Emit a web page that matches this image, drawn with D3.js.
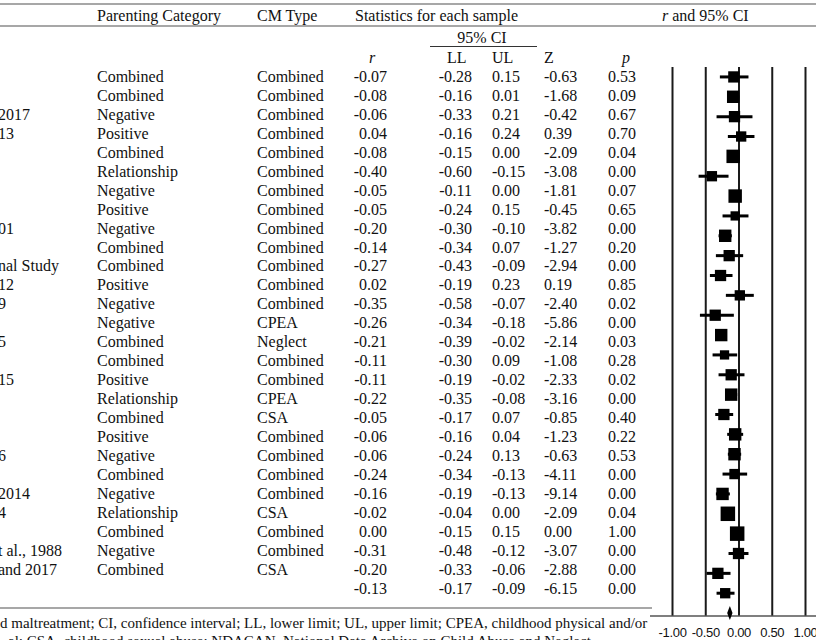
<!DOCTYPE html>
<html>
<head>
<meta charset="utf-8">
<script src="https://cdn.jsdelivr.net/npm/d3@7"></script>
<style>
  body { margin: 0; background: #fff; }
  svg text { font-family: "Liberation Serif", "Times New Roman", serif; font-size: 16px; fill: #111; }
</style>
</head>
<body>
<div id="chart"></div>
<script>
// cut-off study names (left column is cropped in the source)
const studies = ["", "", "2017", "13", "", "", "", "", "01", "", "nal Study", "12", "9", "",
    "5", "", "15", "", "", "", "6", "", "2014", "4", "", "t al., 1988", "and 2017"];
const parenting = ["Combined", "Combined", "Negative", "Positive", "Combined", "Relationship", "Negative",
    "Positive", "Negative", "Combined", "Combined", "Positive", "Negative", "Negative", "Combined",
    "Combined", "Positive", "Relationship", "Combined", "Positive", "Negative", "Combined", "Negative",
    "Relationship", "Combined", "Negative", "Combined"];
const cmType = ["Combined", "Combined", "Combined", "Combined", "Combined", "Combined", "Combined",
    "Combined", "Combined", "Combined", "Combined", "Combined", "Combined", "CPEA", "Neglect",
    "Combined", "Combined", "CPEA", "CSA", "Combined", "Combined", "Combined", "Combined",
    "CSA", "Combined", "Combined", "CSA"];
const rVals = [-0.07, -0.08, -0.06, 0.04, -0.08, -0.40, -0.05, -0.05, -0.20, -0.14, -0.27, 0.02, -0.35,
    -0.26, -0.21, -0.11, -0.11, -0.22, -0.05, -0.06, -0.06, -0.24, -0.16, -0.02, 0.00, -0.31, -0.20];
const llVals = [-0.28, -0.16, -0.33, -0.16, -0.15, -0.60, -0.11, -0.24, -0.30, -0.34, -0.43, -0.19, -0.58,
    -0.34, -0.39, -0.30, -0.19, -0.35, -0.17, -0.16, -0.24, -0.34, -0.19, -0.04, -0.15, -0.48, -0.33];
const ulVals = [0.15, 0.01, 0.21, 0.24, 0.00, -0.15, 0.00, 0.15, -0.10, 0.07, -0.09, 0.23, -0.07,
    -0.18, -0.02, 0.09, -0.02, -0.08, 0.07, 0.04, 0.13, -0.13, -0.13, 0.00, 0.15, -0.12, -0.06];
const zVals = [-0.63, -1.68, -0.42, 0.39, -2.09, -3.08, -1.81, -0.45, -3.82, -1.27, -2.94, 0.19, -2.40,
    -5.86, -2.14, -1.08, -2.33, -3.16, -0.85, -1.23, -0.63, -4.11, -9.14, -2.09, 0.00, -3.07, -2.88];
const pVals = [0.53, 0.09, 0.67, 0.70, 0.04, 0.00, 0.07, 0.65, 0.00, 0.20, 0.00, 0.85, 0.02,
    0.00, 0.03, 0.28, 0.02, 0.00, 0.40, 0.22, 0.53, 0.00, 0.00, 0.04, 1.00, 0.00, 0.00];
// relative study weights (drive the square sizes)
const weights = [4.3, 5.2, 4.3, 3.6, 6.1, 3.6, 6.1, 2.9, 5.2, 4.3, 4.3, 3.6, 4.3, 5.2,
    2.9, 4.3, 5.2, 4.3, 5.2, 5.2, 3.6, 5.2, 7.1, 7.1, 4.3, 4.3, 3.6];
const summary = { r: -0.13, ll: -0.17, ul: -0.09, z: -6.15, p: 0.00 };
const xTicks = [-1, -0.5, 0, 0.5, 1];
const footnotes = [
    "d maltreatment; CI, confidence interval; LL, lower limit; UL, upper limit; CPEA, childhood physical and/or",
    "al; CSA, childhood sexual abuse; NDACAN, National Data Archive on Child Abuse and Neglect."
];

const width = 816, height = 640;
const fmt = v => v.toFixed(2);

const studiesData = rVals.map((r, i) => ({
    id: i, study: studies[i], parenting: parenting[i], cm: cmType[i],
    r: r, ll: llVals[i], ul: ulVals[i], z: zVals[i], p: pVals[i], w: weights[i]
}));
const rowIds = d3.range(studiesData.length + 1); // last one = summary

const svg = d3.select("#chart").append("svg")
    .attr("width", width)
    .attr("height", height);

// rules
const rule = (x1, x2, y) => svg.append("line")
    .attr("x1", x1).attr("x2", x2).attr("y1", y).attr("y2", y)
    .attr("stroke", "#8a8a8a").attr("stroke-width", 1.6);
rule(0, width, 4);
rule(0, width, 26);
rule(0, 652, 608);

// table rows
const yRow = d3.scaleBand().domain(rowIds).range([67, 67 + 18.95 * rowIds.length]);
const base = d => yRow(d) + yRow.bandwidth() / 2 + 5.5;

// headers
svg.append("text").attr("x", 97).attr("y", 21).text("Parenting Category");
svg.append("text").attr("x", 257).attr("y", 21).text("CM Type");
svg.append("text").attr("x", 355).attr("y", 21).text("Statistics for each sample");
const rh = svg.append("text").attr("x", 662).attr("y", 21);
rh.append("tspan").attr("font-style", "italic").text("r");
rh.append("tspan").text(" and 95% CI");

svg.append("text").attr("x", 482).attr("y", 43).attr("text-anchor", "middle").text("95% CI");
svg.append("line").attr("x1", 430).attr("x2", 537).attr("y1", 46.5).attr("y2", 46.5)
    .attr("stroke", "#333").attr("stroke-width", 1);

const cols = [
    { key: "study", x: -2, anchor: "start" },
    { key: "parenting", x: 97, anchor: "start" },
    { key: "cm", x: 257, anchor: "start" },
    { key: "r", x: 387, anchor: "end", num: true },
    { key: "ll", x: 472, anchor: "end", num: true },
    { key: "ul", x: 492, anchor: "start", num: true },
    { key: "z", x: 544, anchor: "start", num: true },
    { key: "p", x: 608, anchor: "start", num: true }
];

svg.append("text").attr("x", 369).attr("y", 63).attr("font-style", "italic").text("r");
svg.append("text").attr("x", 447).attr("y", 63).text("LL");
svg.append("text").attr("x", 492).attr("y", 63).text("UL");
svg.append("text").attr("x", 544).attr("y", 63).text("Z");
svg.append("text").attr("x", 622).attr("y", 63).attr("font-style", "italic").text("p");

const rowG = svg.selectAll(".row")
    .data(studiesData)
    .enter().append("g")
    .attr("class", "row");

cols.forEach(c => {
    rowG.append("text")
        .attr("x", c.x)
        .attr("y", d => base(d.id))
        .attr("text-anchor", c.anchor)
        .text(d => c.num ? fmt(d[c.key]) : d[c.key]);
});

const sumId = studiesData.length;
cols.filter(c => c.num).forEach(c => {
    svg.append("text")
        .attr("x", c.x)
        .attr("y", base(sumId))
        .attr("text-anchor", c.anchor)
        .text(fmt(summary[c.key]));
});

// forest plot
const x = d3.scaleLinear().domain([-1, 1]).range([672, 805]);
const yPlot = d3.scaleBand().domain(rowIds).range([67, 623]);
const yc = d => yPlot(d) + yPlot.bandwidth() / 2;
const axisY = 616;
const side = d3.scaleSqrt().domain([0, 7.1]).range([0, 14.5]);

const axis = svg.append("g")
    .attr("transform", `translate(0,${axisY})`)
    .call(d3.axisBottom(x)
        .tickValues(xTicks)
        .tickSize(-(axisY - 67))
        .tickPadding(12)
        .tickFormat(d => d.toFixed(2)));
axis.select(".domain").remove();
axis.selectAll(".tick line").attr("stroke", "#1a1a1a").attr("stroke-width", 2);
axis.selectAll(".tick text")
    .style("font-family", "'Liberation Sans', Arial, sans-serif")
    .style("font-size", "13px")
    .style("letter-spacing", "-0.3px")
    .attr("fill", "#000");

svg.append("line")
    .attr("x1", 650).attr("x2", width).attr("y1", axisY).attr("y2", axisY)
    .attr("stroke", "#555").attr("stroke-width", 1.4);

const marks = svg.selectAll(".mark")
    .data(studiesData)
    .enter().append("g")
    .attr("class", "mark");

marks.append("line")
    .attr("x1", d => x(d.ll))
    .attr("x2", d => x(d.ul))
    .attr("y1", d => yc(d.id))
    .attr("y2", d => yc(d.id))
    .attr("stroke", "#000")
    .attr("stroke-width", 3);

marks.append("rect")
    .attr("x", d => x(d.r) - side(d.w) / 2)
    .attr("y", d => yc(d.id) - side(d.w) / 2)
    .attr("width", d => side(d.w))
    .attr("height", d => side(d.w))
    .attr("fill", "#000");

// summary diamond
const sy = yc(sumId);
svg.append("path")
    .attr("d", `M${x(summary.ll)},${sy} L${x(summary.r)},${sy - 7} L${x(summary.ul)},${sy} L${x(summary.r)},${sy + 7} Z`)
    .attr("fill", "#000");

// footnote (cropped)
svg.append("text").attr("x", 0).attr("y", 627.5).style("font-size", "15px").text(footnotes[0]);
svg.append("text").attr("x", 8).attr("y", 646).style("font-size", "15px").text(footnotes[1]);
</script>
</body>
</html>
